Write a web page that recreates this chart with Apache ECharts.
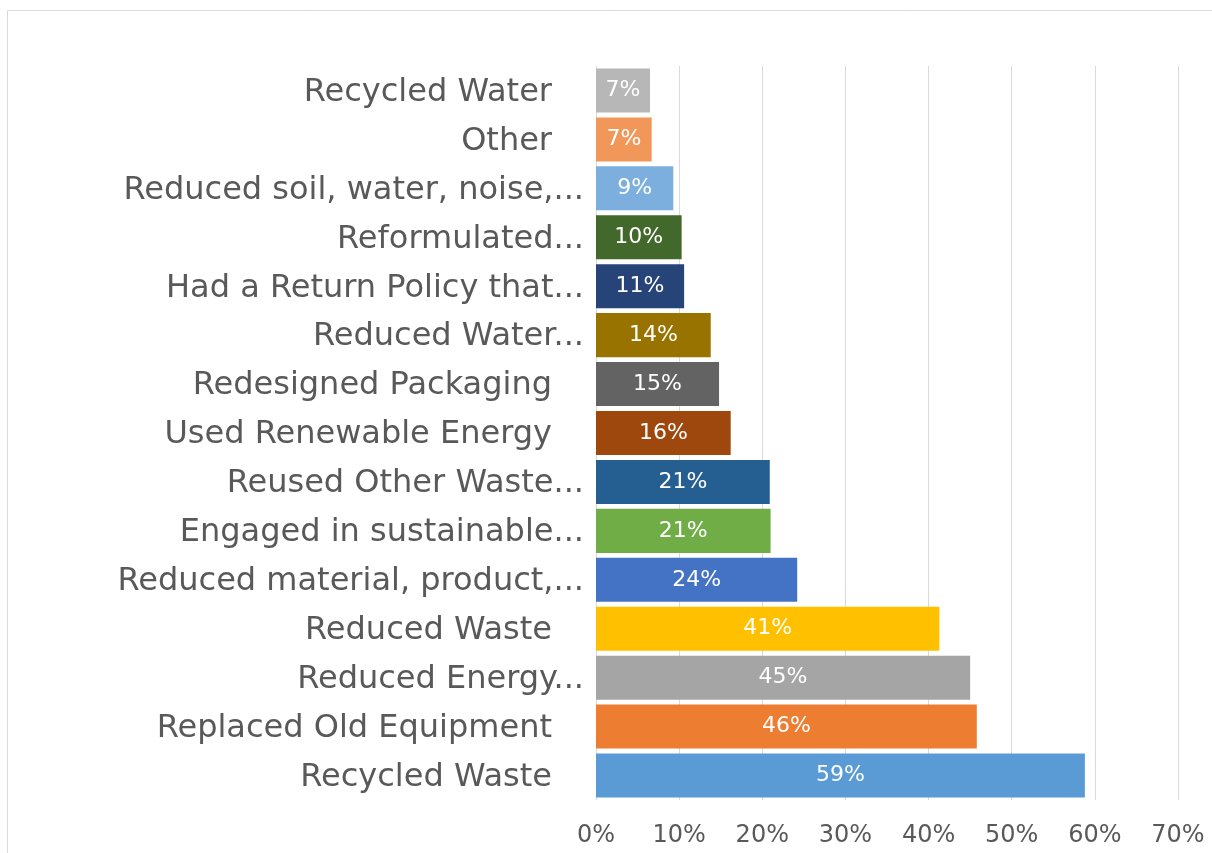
<!DOCTYPE html>
<html>
<head>
<meta charset="utf-8">
<script src="https://cdn.jsdelivr.net/npm/echarts@6/dist/echarts.min.js"></script>
<style>
  html, body { margin: 0; padding: 0; background: #fff; }
  #main { width: 1212px; height: 853px; }
</style>
</head>
<body>
<div id="main"></div>
<script>
// categories listed bottom -> top
const categories = [
    'Recycled Waste',
    'Replaced Old Equipment',
    'Reduced Energy...',
    'Reduced Waste',
    'Reduced material, product,...',
    'Engaged in sustainable...',
    'Reused Other Waste...',
    'Used Renewable Energy',
    'Redesigned Packaging',
    'Reduced Water...',
    'Had a Return Policy that...',
    'Reformulated...',
    'Reduced soil, water, noise,...',
    'Other',
    'Recycled Water'
];
const values = [58.8, 45.8, 45.0, 41.3, 24.2, 21.0, 20.9, 16.2, 14.8, 13.8, 10.6, 10.3, 9.3, 6.7, 6.5];
const barColors = ['#5B9BD5', '#ED7D31', '#A5A5A5', '#FFC000', '#4472C4', '#70AD47', '#255E91', '#9E480E',
    '#636363', '#997300', '#264478', '#43682B', '#7CAFDD', '#F1975A', '#B7B7B7'];
const xTicks = [0, 10, 20, 30, 40, 50, 60, 70];

let myChart = echarts.init(document.getElementById('main'));
let option = {
    animation: false,
    graphic: [{
        type: 'rect',
        shape: { x: 7.5, y: 10.5, width: 1230, height: 870 },
        style: { fill: 'none', stroke: '#d9d9d9', lineWidth: 1 },
        silent: true
    }],
    grid: { left: 596, right: 34, top: 66, bottom: 53, containLabel: false },
    xAxis: {
        type: 'value',
        min: xTicks[0],
        max: xTicks[xTicks.length - 1],
        interval: 10,
        axisLine: { show: false },
        axisTick: { show: false },
        splitLine: { show: true, lineStyle: { color: '#d9d9d9', width: 1 } },
        axisLabel: {
            margin: 24,
            color: '#595959',
            fontSize: 24,
            fontFamily: 'DejaVu Sans',
            formatter: function (v) { return v + '%'; }
        }
    },
    yAxis: {
        type: 'category',
        data: categories,
        axisLine: { show: false },
        axisTick: { show: false },
        axisLabel: {
            margin: 12,
            color: '#595959',
            fontSize: 32,
            fontFamily: 'DejaVu Sans',
            formatter: function (v) {
                return v.endsWith('...') ? '{a|' + v + '}' : '{b|' + v + '}';
            },
            rich: {
                a: { fontSize: 32, fontFamily: 'DejaVu Sans', color: '#595959', padding: [4, 0, 0, 0] },
                b: { fontSize: 32, fontFamily: 'DejaVu Sans', color: '#595959', padding: [4, 32, 0, 0] }
            }
        }
    },
    series: [{
        type: 'bar',
        data: values,
        barCategoryGap: '10%',
        itemStyle: {
            color: function (p) { return barColors[p.dataIndex]; }
        },
        label: {
            show: true,
            position: 'inside',
            color: '#fff',
            fontSize: 22,
            fontFamily: 'DejaVu Sans',
            formatter: function (p) { return Math.round(p.value) + '%'; }
        }
    }]
};
myChart.setOption(option);
</script>
</body>
</html>
